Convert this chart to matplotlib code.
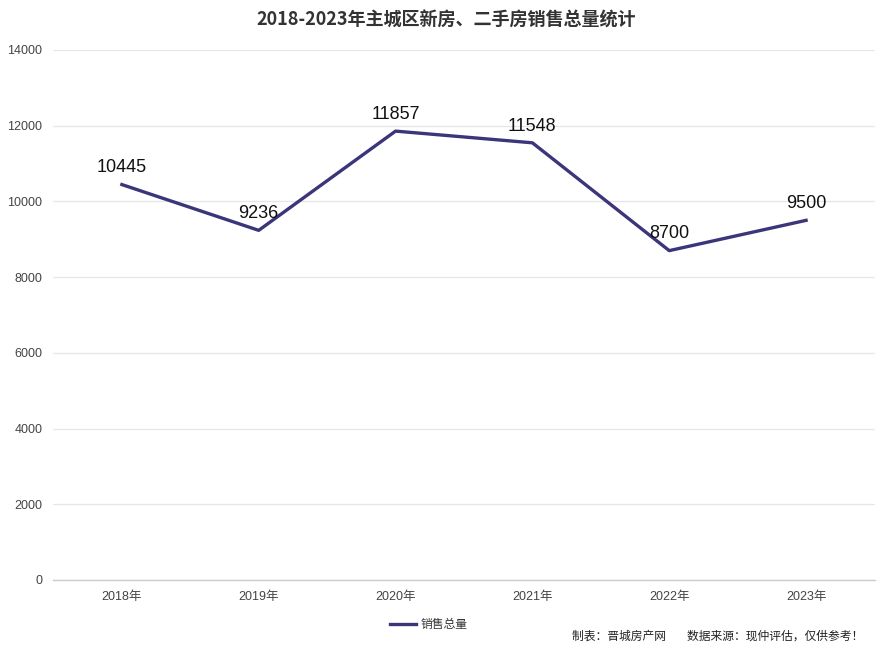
import matplotlib
matplotlib.use("Agg")
import matplotlib.pyplot as plt
from matplotlib.lines import Line2D

plt.rcParams['font.family'] = ['Noto Sans CJK SC', 'DejaVu Sans']

years = ["2018年", "2019年", "2020年", "2021年", "2022年", "2023年"]
sales = [10445, 9236, 11857, 11548, 8700, 9500]
yticks = [0, 2000, 4000, 6000, 8000, 10000, 12000, 14000]

title = "2018-2023年主城区新房、二手房销售总量统计"
series_name = "销售总量"
footer = "制表：晋城房产网        数据来源：现仲评估，仅供参考！"

line_color = "#3b357a"
tick_family = ['Liberation Sans', 'Noto Sans CJK SC', 'DejaVu Sans']

fig = plt.figure(figsize=(8.88, 6.5), dpi=100)
ax = fig.add_axes([0.0602, 0.1077, 0.9246, 0.8154])

x = list(range(len(years)))
ax.plot(x, sales, color=line_color, lw=2.4, solid_joinstyle='round')
for xi, v in zip(x, sales):
    ax.annotate(str(v), (xi, v), xytext=(0, 12), textcoords='offset points',
                ha='center', va='center', fontsize=13, color='#111111',
                family=['Liberation Sans', 'DejaVu Sans'])

ax.set_xlim(-0.5, len(years) - 0.5)
ax.set_ylim(0, 14000)
ax.set_yticks(yticks)
ax.set_yticklabels([str(t) for t in yticks], fontsize=9, color='#444444',
                   family=tick_family)
ax.set_xticks(x)
ax.set_xticklabels(years, fontsize=9, color='#444444', family=tick_family)
ax.tick_params(axis='both', length=0)
ax.tick_params(axis='y', pad=8)
ax.tick_params(axis='x', pad=8)
ax.grid(axis='y', color='#e6e6e6', lw=0.9)
ax.set_axisbelow(True)
for s in ['top', 'right', 'left']:
    ax.spines[s].set_visible(False)
ax.spines['bottom'].set_color('#cccccc')
ax.spines['bottom'].set_linewidth(1.0)

fig.text(0.502, 0.969, title, ha='center', va='center', fontsize=13,
         fontweight='bold', color='#333333')

handle = Line2D([0], [0], color=line_color, lw=2.4)
fig.legend([handle], [series_name], loc='center', bbox_to_anchor=(0.483, 0.039),
           frameon=False, fontsize=8.5, handlelength=2.2, handletextpad=0.4,
           labelcolor='#333333')

fig.text(0.972, 0.022, footer, ha='right', va='center', fontsize=8.5, color='#222222')

fig.savefig("out.png", dpi=100, facecolor='white')
